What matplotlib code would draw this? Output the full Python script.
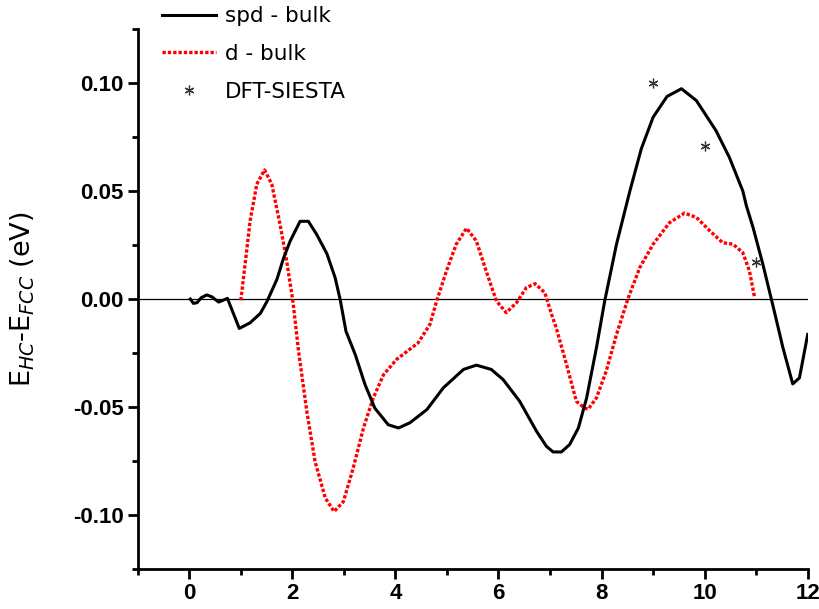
import numpy as np
import matplotlib
matplotlib.use("Agg")
import matplotlib.pyplot as plt
from matplotlib.ticker import MultipleLocator, FormatStrFormatter

# spd - bulk energy difference vs. thickness
spd_x = [0.02, 0.08, 0.15, 0.23, 0.34, 0.44, 0.57, 0.74, 0.97, 1.18, 1.38, 1.51,
         1.70, 1.83, 1.96, 2.15, 2.31, 2.47, 2.67, 2.83, 2.93, 3.04, 3.22, 3.41,
         3.60, 3.86, 4.06, 4.28, 4.61, 4.93, 5.32, 5.57, 5.86, 6.09, 6.41, 6.74,
         6.93, 7.06, 7.22, 7.38, 7.55, 7.71, 7.90, 8.06, 8.29, 8.55, 8.77, 9.00,
         9.27, 9.55, 9.84, 10.22, 10.48, 10.74, 10.81, 10.94, 11.13, 11.32, 11.52,
         11.71, 11.84, 12.0]
spd_y = [0.0, -0.002, -0.0017, 0.0006, 0.0019, 0.001, -0.0014, 0.0003, -0.0136,
         -0.011, -0.0066, -0.001, 0.0091, 0.019, 0.027, 0.036, 0.036, 0.030,
         0.021, 0.0099, -0.0005, -0.0149, -0.0257, -0.0396, -0.0505, -0.0582,
         -0.0597, -0.0573, -0.0512, -0.0411, -0.0326, -0.0306, -0.0326, -0.0373,
         -0.0473, -0.0613, -0.0682, -0.0708, -0.0708, -0.0674, -0.0597, -0.0458,
         -0.0226, -0.0010, 0.0254, 0.0501, 0.0695, 0.0842, 0.0938, 0.0974, 0.0919,
         0.0780, 0.0656, 0.0501, 0.0432, 0.0331, 0.0161, -0.0025, -0.0226,
         -0.0393, -0.0365, -0.0164]

# d - bulk
d_x = [1.00, 1.09, 1.18, 1.31, 1.46, 1.60, 1.76, 1.89, 2.01, 2.12, 2.28, 2.44,
       2.64, 2.81, 2.99, 3.18, 3.38, 3.57, 3.77, 4.02, 4.44, 4.67, 4.80, 4.99,
       5.18, 5.38, 5.57, 5.77, 5.96, 6.15, 6.35, 6.54, 6.71, 6.90, 7.03, 7.12,
       7.32, 7.51, 7.67, 7.74, 7.90, 8.09, 8.29, 8.51, 8.74, 9.00, 9.32, 9.61,
       9.84, 10.10, 10.35, 10.55, 10.74, 10.87, 10.97]
d_y = [-0.0006, 0.0176, 0.0362, 0.0532, 0.0598, 0.0532, 0.0347, 0.0176, -0.0009,
       -0.0241, -0.0520, -0.0752, -0.0922, -0.0984, -0.0938, -0.0783, -0.0597,
       -0.0458, -0.0350, -0.0280, -0.0203, -0.0117, -0.0009, 0.0130, 0.0254,
       0.0328, 0.0269, 0.0123, -0.0009, -0.0063, -0.0017, 0.0053, 0.0071, 0.0029,
       -0.0071, -0.0133, -0.0303, -0.0473, -0.0505, -0.0510, -0.0458, -0.0334,
       -0.0164, 0.0, 0.0145, 0.0254, 0.0354, 0.0398, 0.0378, 0.0316, 0.0261,
       0.0254, 0.0215, 0.0130, 0.0006]

# DFT-SIESTA reference points
dft_x = [9, 10, 11]
dft_y = [0.100, 0.071, 0.017]

tick_font = ["Liberation Sans Narrow", "Liberation Sans", "DejaVu Sans"]

fig = plt.figure(figsize=(8.2, 6.09), dpi=100)
ax = fig.add_axes([0.168, 0.0657, 0.817, 0.8865])

ax.axhline(0, color="black", lw=0.9, zorder=1)
l1, = ax.plot(spd_x, spd_y, color="black", lw=2.2, label="spd - bulk", zorder=3)
l2, = ax.plot(d_x, d_y, color="red", lw=2.4, ls=(0, (1, 0.6)), label="d - bulk", zorder=2)
l3, = ax.plot(dft_x, dft_y, ls="none", marker=(6, 2, 0), ms=7, mew=0.9,
              color="#333333", label="DFT-SIESTA", zorder=4)

ax.set_xlim(-1, 12)
ax.set_ylim(-0.125, 0.125)
ax.xaxis.set_major_locator(MultipleLocator(2))
ax.xaxis.set_minor_locator(MultipleLocator(1))
ax.yaxis.set_major_locator(MultipleLocator(0.05))
ax.yaxis.set_minor_locator(MultipleLocator(0.025))
ax.yaxis.set_major_formatter(FormatStrFormatter("%.2f"))

for s in ["top", "right"]:
    ax.spines[s].set_visible(False)
for s in ["left", "bottom"]:
    ax.spines[s].set_linewidth(2.0)

ax.tick_params(which="major", direction="out", length=7, width=2.0, pad=3)
ax.tick_params(which="minor", direction="out", length=4.5, width=2.0)
for lab in ax.get_xticklabels() + ax.get_yticklabels():
    lab.set_family(tick_font)
    lab.set_fontweight("bold")
    lab.set_fontsize(16)

ax.set_ylabel(r"E$_{HC}$-E$_{FCC}$ (eV)", fontsize=19.5, labelpad=26)

fig.legend(handles=[l1, l2, l3], loc="upper left", bbox_to_anchor=(0.197, 0.99),
           frameon=False, fontsize=15.5, handlelength=2.55, handletextpad=0.4,
           labelspacing=0.83, borderpad=0, borderaxespad=0)

fig.savefig("out.png", dpi=100)
